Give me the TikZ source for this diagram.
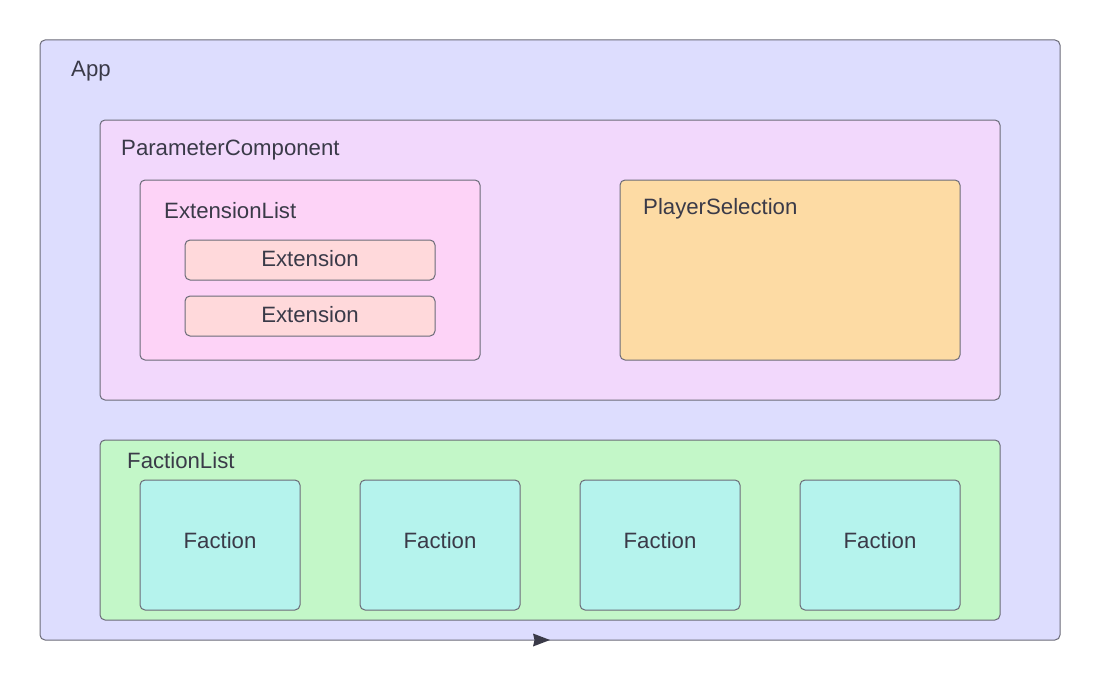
\documentclass[tikz,border=0pt]{standalone}
\usepackage{fontspec}
\setmainfont{Liberation Sans}
\usetikzlibrary{arrows.meta}
\definecolor{edge}{HTML}{6B6B78}
\definecolor{txt}{HTML}{3A3A48}
\definecolor{appc}{HTML}{DDDDFE}
\definecolor{paramc}{HTML}{F2D8FC}
\definecolor{extlc}{HTML}{FDD3F7}
\definecolor{extc}{HTML}{FFD9DB}
\definecolor{playc}{HTML}{FDDBA4}
\definecolor{factlc}{HTML}{C3F7C8}
\definecolor{factc}{HTML}{B5F3ED}
\tikzset{
  box/.style={draw=edge, line width=1pt, rounded corners=5pt, anchor=north west, inner sep=0pt, outer sep=0pt},
  lbl/.style={anchor=west, inner sep=0pt, text=txt, font=\fontsize{22.2pt}{25pt}\selectfont},
  ctr/.style={anchor=center, inner sep=0pt, text=txt, font=\fontsize{22.2pt}{25pt}\selectfont}
}
\begin{document}
\begin{tikzpicture}[x=1pt,y=-1pt]
\useasboundingbox (0,0) rectangle (1100,685);
\node[box, fill=appc, minimum width=1020pt, minimum height=600pt] (app) at (40,40) {};
\node[lbl] (applbl) at (71,71) {App};
\node[box, fill=paramc, minimum width=900pt, minimum height=280pt] (param) at (100,120) {};
\node[lbl] (paramlbl) at (121,150) {ParameterComponent};
\node[box, fill=extlc, minimum width=340pt, minimum height=180pt] (extl) at (140,180) {};
\node[lbl] (extllbl) at (164,211) {ExtensionList};
\node[box, fill=extc, minimum width=250pt, minimum height=40pt] (ext1) at (185,240) {};
\node[ctr] (ext1lbl) at (310,259) {Extension};
\node[box, fill=extc, minimum width=250pt, minimum height=40pt] (ext2) at (185,296) {};
\node[ctr] (ext2lbl) at (310,315) {Extension};
\node[box, fill=playc, minimum width=340pt, minimum height=180pt] (play) at (620,180) {};
\node[lbl] (playlbl) at (643,209) {PlayerSelection};
\node[box, fill=factlc, minimum width=900pt, minimum height=180pt] (factl) at (100,440) {};
\node[lbl] (factllbl) at (127,461) {FactionList};
\foreach \i/\x in {1/140,2/360,3/580,4/800}{
  \node[box, fill=factc, minimum width=160pt, minimum height=130pt] (f\i) at (\x,480) {};
  \node[ctr] (f\i lbl) at (\x+80,541) {Faction};
}
\coordinate (arrT) at (550,640);
\coordinate (arrA) at (533,633.5);
\coordinate (arrB) at (533,646.5);
\coordinate (arrM) at (534.5,640);
\fill[txt] (arrT) -- (arrA) -- (arrM) -- (arrB) -- cycle;
\end{tikzpicture}
\end{document}
